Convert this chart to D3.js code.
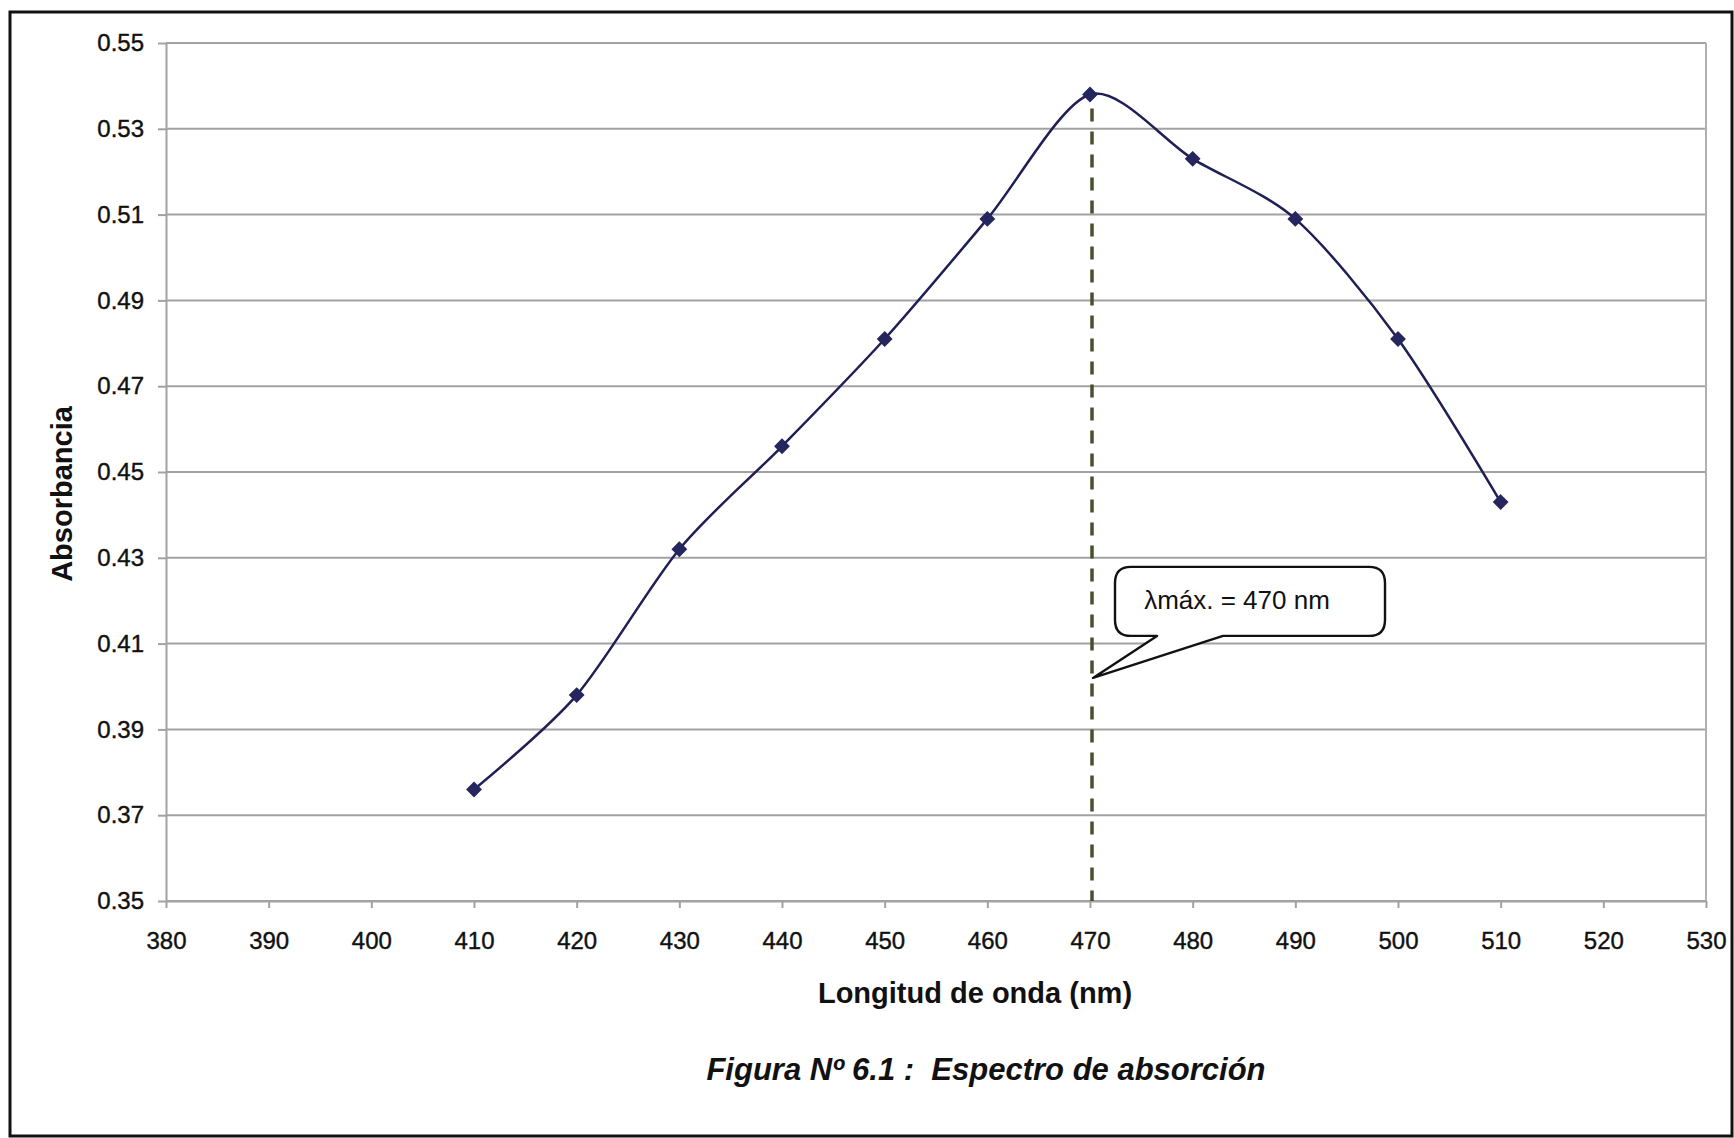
<!DOCTYPE html>
<html>
<head>
<meta charset="utf-8">
<script src="https://cdn.jsdelivr.net/npm/d3@7"></script>
<style>
  body { margin: 0; background: #fff; }
  svg { display: block; font-family: "Liberation Sans", Arial, sans-serif; }
</style>
</head>
<body>
<div id="chart"></div>
<script>
// wavelength (nm) and measured absorbance
var wavelengths = [410, 420, 430, 440, 450, 460, 470, 480, 490, 500, 510];
var absorbance = [0.376, 0.398, 0.432, 0.456, 0.481, 0.509, 0.538, 0.523, 0.509, 0.481, 0.443];

var xTicks = [380, 390, 400, 410, 420, 430, 440, 450, 460, 470, 480, 490, 500, 510, 520, 530];
var yTicks = [0.35, 0.37, 0.39, 0.41, 0.43, 0.45, 0.47, 0.49, 0.51, 0.53, 0.55];

var lambdaMax = 470;
var calloutAt = 0.402;
var calloutText = "\u03bbmáx. = 470 nm";

var xTitle = "Longitud de onda (nm)";
var yTitle = "Absorbancia";
var caption = "Figura Nº 6.1 :  Espectro de absorción";

var width = 1734;
var height = 1138;
var plot = { left: 166, right: 1706, top: 43, bottom: 901 };

var svg, xScale, yScale;

createSVG();
makeScales();
drawGrid();
drawAxes();
drawDropLine();
drawSeries();
drawCallout();
drawTitles();

function createSVG() {
  svg = d3.select("#chart")
    .append("svg")
    .attr("width", width)
    .attr("height", height);

  // outer frame
  svg.append("rect")
    .attr("x", 10)
    .attr("y", 12)
    .attr("width", width - 12)
    .attr("height", height - 14)
    .attr("fill", "#fff")
    .attr("stroke", "#111")
    .attr("stroke-width", 3);
}

function makeScales() {
  xScale = d3.scaleLinear()
    .domain([380, 530])
    .range([plot.left, plot.right]);

  yScale = d3.scaleLinear()
    .domain([0.35, 0.55])
    .range([plot.bottom, plot.top]);
}

function drawGrid() {
  svg.append("g")
    .selectAll("line")
    .data(yTicks)
    .enter()
    .append("line")
    .attr("x1", plot.left)
    .attr("x2", plot.right)
    .attr("y1", function(d) { return yScale(d); })
    .attr("y2", function(d) { return yScale(d); })
    .attr("stroke", "#a2a2a2")
    .attr("stroke-width", 2);

  svg.append("line")
    .attr("x1", plot.right)
    .attr("x2", plot.right)
    .attr("y1", plot.top)
    .attr("y2", plot.bottom)
    .attr("stroke", "#b0b0b0")
    .attr("stroke-width", 2);
}

function drawAxes() {
  var xAxis = svg.append("g")
    .attr("transform", "translate(0," + plot.bottom + ")")
    .call(d3.axisBottom(xScale)
      .tickValues(xTicks)
      .tickFormat(d3.format("d"))
      .tickSizeInner(7)
      .tickSizeOuter(0)
      .tickPadding(24));

  var yAxis = svg.append("g")
    .attr("transform", "translate(" + plot.left + ",0)")
    .call(d3.axisLeft(yScale)
      .tickValues(yTicks)
      .tickFormat(d3.format(".2f"))
      .tickSizeInner(8)
      .tickSizeOuter(0)
      .tickPadding(14));

  [xAxis, yAxis].forEach(function(axis) {
    axis.select(".domain")
      .attr("stroke", "#a2a2a2")
      .attr("stroke-width", 2);
    axis.selectAll(".tick line")
      .attr("stroke", "#a2a2a2")
      .attr("stroke-width", 2);
    axis.selectAll(".tick text")
      .attr("fill", "#111")
      .attr("stroke", "#111")
      .attr("stroke-width", 0.4)
      .style("font-size", "24px")
      .style("font-family", "'Liberation Sans', Arial, sans-serif");
  });
}

function drawDropLine() {
  var peak = d3.max(absorbance);
  svg.append("line")
    .attr("x1", xScale(lambdaMax) + 2)
    .attr("x2", xScale(lambdaMax) + 2)
    .attr("y1", yScale(peak) + 14)
    .attr("y2", plot.bottom)
    .attr("stroke", "#45512f")
    .attr("stroke-width", 3.5)
    .attr("stroke-dasharray", "13,10");
}

function drawSeries() {
  var points = wavelengths.map(function(w, i) {
    return { x: w, y: absorbance[i] };
  });

  var line = d3.line()
    .x(function(d) { return xScale(d.x); })
    .y(function(d) { return yScale(d.y); })
    .curve(d3.curveCardinal.tension(0.15));

  svg.append("path")
    .datum(points)
    .attr("d", line)
    .attr("fill", "none")
    .attr("stroke", "#1f1f55")
    .attr("stroke-width", 2.5);

  svg.append("g")
    .selectAll("path")
    .data(points)
    .enter()
    .append("path")
    .attr("d", d3.symbol().type(d3.symbolDiamond2).size(120))
    .attr("transform", function(d) {
      return "translate(" + xScale(d.x) + "," + yScale(d.y) + ")";
    })
    .attr("fill", "#26265e")
    .attr("stroke", "#26265e")
    .attr("stroke-width", 1.5);
}

function drawCallout() {
  var tipX = xScale(lambdaMax) + 3;
  var tipY = yScale(calloutAt);
  var left = tipX + 22;
  var right = tipX + 292;
  var top = tipY - 111;
  var bottom = tipY - 42;
  var r = 16;
  var baseL = tipX + 64;
  var baseR = tipX + 130;

  var p = d3.path();
  p.moveTo(left + r, top);
  p.lineTo(right - r, top);
  p.quadraticCurveTo(right, top, right, top + r);
  p.lineTo(right, bottom - r);
  p.quadraticCurveTo(right, bottom, right - r, bottom);
  p.lineTo(baseR, bottom);
  p.lineTo(tipX, tipY);
  p.lineTo(baseL, bottom);
  p.lineTo(left + r, bottom);
  p.quadraticCurveTo(left, bottom, left, bottom - r);
  p.lineTo(left, top + r);
  p.quadraticCurveTo(left, top, left + r, top);
  p.closePath();

  svg.append("path")
    .attr("d", p.toString())
    .attr("fill", "#fff")
    .attr("stroke", "#111")
    .attr("stroke-width", 2.4)
    .attr("stroke-linejoin", "round");

  svg.append("text")
    .attr("x", (left + right) / 2 - 13)
    .attr("y", top + 42)
    .attr("text-anchor", "middle")
    .attr("fill", "#111")
    .style("font-size", "26px")
    .text(calloutText);
}

function drawTitles() {
  svg.append("text")
    .attr("x", 975)
    .attr("y", 1003)
    .attr("text-anchor", "middle")
    .attr("fill", "#111")
    .style("font-size", "29px")
    .style("font-weight", "bold")
    .text(xTitle);

  svg.append("text")
    .attr("transform", "translate(72,494) rotate(-90)")
    .attr("text-anchor", "middle")
    .attr("fill", "#111")
    .style("font-size", "29px")
    .style("font-weight", "bold")
    .text(yTitle);

  svg.append("text")
    .attr("x", 986)
    .attr("y", 1080)
    .attr("text-anchor", "middle")
    .attr("fill", "#111")
    .style("font-size", "31px")
    .style("font-weight", "bold")
    .style("font-style", "italic")
    .style("white-space", "pre")
    .text(caption);
}
</script>
</body>
</html>
